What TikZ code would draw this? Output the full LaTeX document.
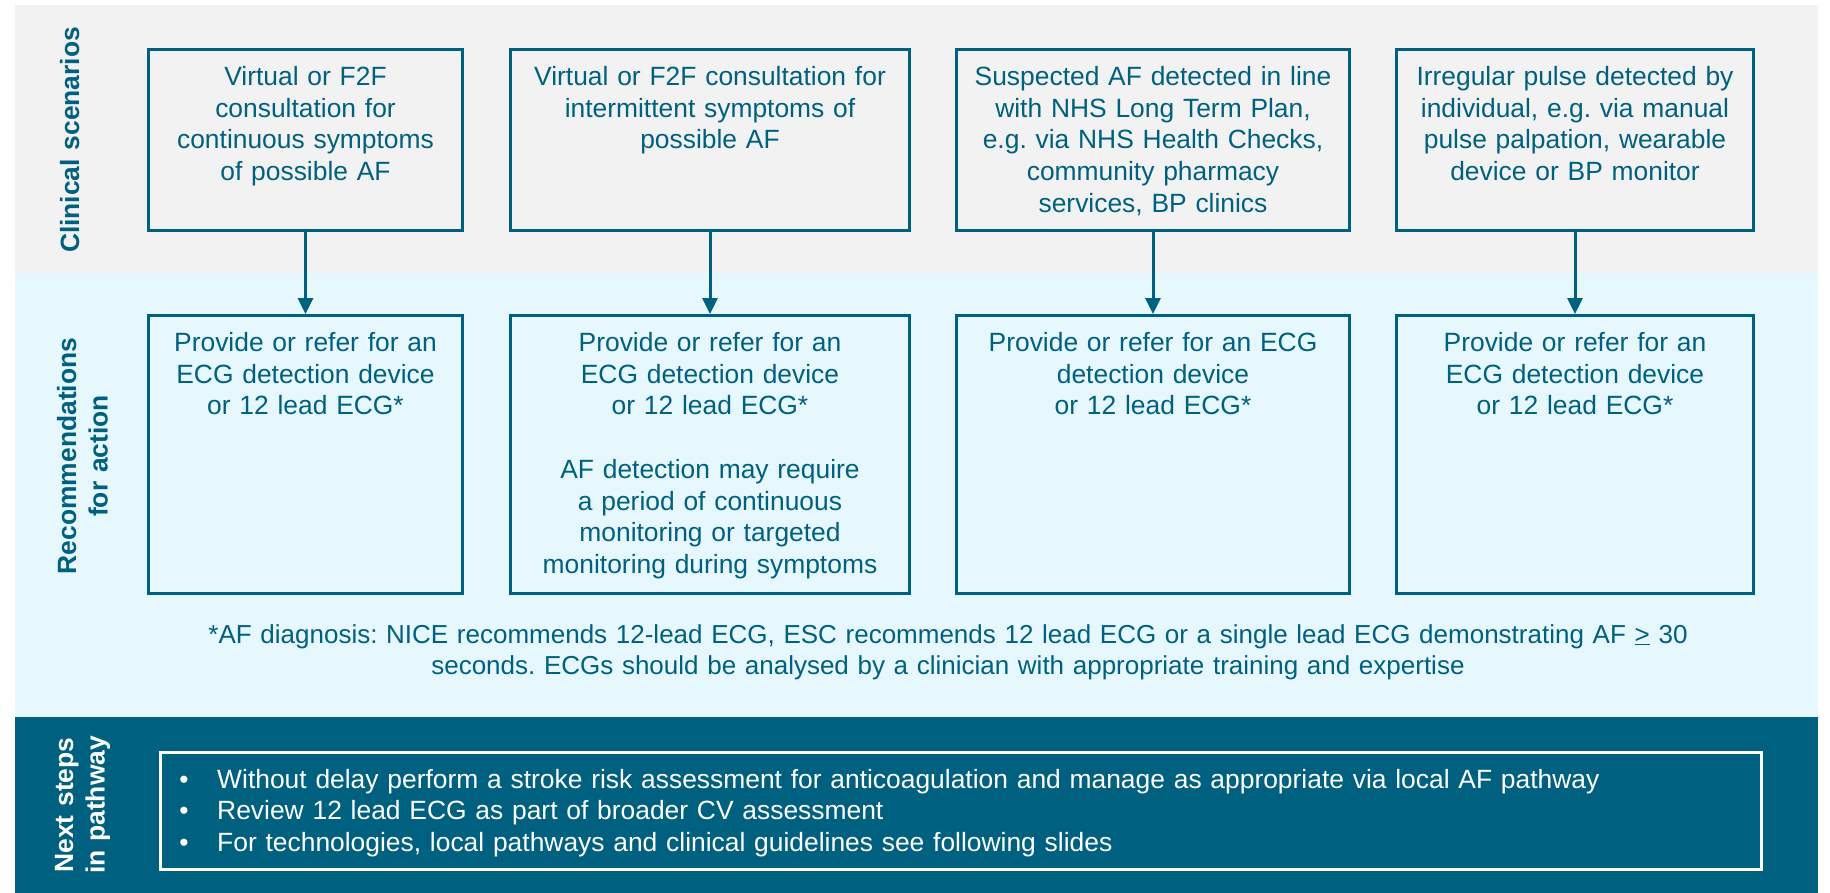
\documentclass[tikz,border=0pt]{standalone}
\usepackage{fontspec}
\setmainfont{Liberation Sans}
\usetikzlibrary{arrows.meta}
\definecolor{petrol}{RGB}{0,96,128}
\definecolor{lightgrey}{RGB}{242,242,242}
\definecolor{paleblue}{RGB}{230,247,254}
\newcommand{\stepitem}{\makebox[38pt][l]{\textbullet}}
\frenchspacing

\begin{document}
\begin{tikzpicture}[x=1pt, y=-1pt, font=\fontsize{26.4}{31.7}\selectfont]
    \tikzset{%
      card/.style={draw=petrol, line width=3pt, text=petrol, align=center,
        inner sep=0pt, text height=36pt, anchor=north west},
      scen/.style={card, text depth=145pt},
      act/.style={card, text depth=242pt},
      side/.style={rotate=90, anchor=base, text width=320pt, align=center,
        inner sep=0pt, font=\fontsize{26.4}{31.7}\selectfont\bfseries},
      link/.style={draw=petrol, line width=3pt,
        -{Triangle[length=16pt, width=15pt]}},
    }
    \useasboundingbox (0,0) rectangle (1830,893);
    % the three bands
    \fill[lightgrey] (15,5) rectangle (1818,273);
    \fill[paleblue] (15,273) rectangle (1818,717);
    \fill[petrol] (15,717) rectangle (1818,893);

    \node[side, text=petrol] (L1) at (79,140) {Clinical scenarios};
    \node[side, text=petrol] (L2) at (76,456) {Recommendations\\for action};
    \node[side, text=white] (L3) at (73,805) {Next steps\\in pathway};

    % scenarios
    \node[scen, text width=314pt] (A) at (147,48)
      {Virtual or F2F\\consultation for\\continuous symptoms\\of possible AF};
    \node[scen, text width=399pt] (B) at (509,48)
      {Virtual or F2F consultation for\\intermittent symptoms of\\possible AF};
    \node[scen, text width=393pt] (C) at (955,48)
      {Suspected AF detected in line\\with NHS Long Term Plan,\\e.g. via NHS Health Checks,\\community pharmacy\\services, BP clinics};
    \node[scen, text width=357pt] (D) at (1395,48)
      {Irregular pulse detected by\\individual, e.g. via manual\\pulse palpation, wearable\\device or BP monitor};

    % actions
    \node[act, text width=314pt] (A0) at (147,314)
      {Provide or refer for an\\ECG detection device\\or 12 lead ECG*};
    \node[act, text width=399pt] (B0) at (509,314)
      {Provide or refer for an\\ECG detection device\\or 12 lead ECG*\\[31.7pt]
       AF detection may require\\a period of continuous\\monitoring or targeted\\monitoring during symptoms};
    \node[act, text width=393pt] (C0) at (955,314)
      {Provide or refer for an ECG\\detection device\\or 12 lead ECG*};
    \node[act, text width=357pt] (D0) at (1395,314)
      {Provide or refer for an\\ECG detection device\\or 12 lead ECG*};

    \draw[link] (A) -- (A0);
    \draw[link] (B) -- (B0);
    \draw[link] (C) -- (C0);
    \draw[link] (D) -- (D0);

    \node[text=petrol, text width=1700pt, align=center, inner sep=0pt,
      font=\fontsize{26}{31.7}\selectfont, anchor=base] (note) at (948,643)
      {*AF diagnosis: NICE recommends 12-lead ECG, ESC recommends 12 lead ECG or a single lead ECG demonstrating AF \underline{>} 30\\seconds. ECGs should be analysed by a clinician with appropriate training and expertise};

    % next steps
    \node[draw=white, line width=2.5pt, text=white, text width=1563pt,
      align=left, inner xsep=19pt, inner ysep=0pt, text height=36pt,
      text depth=81pt, anchor=north west] (steps) at (159,751)
      {\stepitem Without delay perform a stroke risk assessment for anticoagulation and manage as appropriate via local AF pathway\\
       \stepitem Review 12 lead ECG as part of broader CV assessment\\
       \stepitem For technologies, local pathways and clinical guidelines see following slides};
\end{tikzpicture}
\end{document}
